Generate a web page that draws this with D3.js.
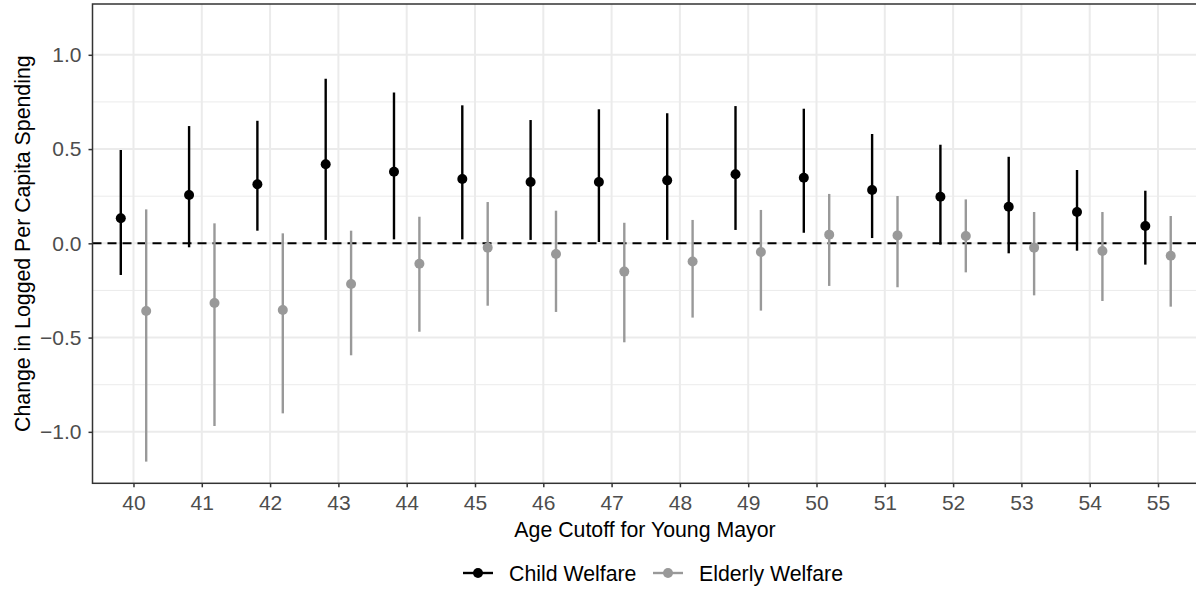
<!DOCTYPE html>
<html>
<head>
<meta charset="utf-8">
<script src="https://cdn.jsdelivr.net/npm/d3@7"></script>
<style>
  body { margin: 0; background: #fff; }
  text { font-family: "Liberation Sans", Arial, sans-serif; }
</style>
</head>
<body>
<div id="chart"></div>
<script>
// age cutoffs on the x axis
const cutoffs = ["40","41","42","43","44","45","46","47","48","49","50","51","52","53","54","55"];

// child welfare estimates and interval ends
const childEst = [0.133, 0.256, 0.313, 0.419, 0.380, 0.341, 0.325, 0.325, 0.334, 0.366, 0.348, 0.283, 0.247, 0.194, 0.166, 0.092];
const childLo  = [-0.168, -0.021, 0.067, 0.018, 0.021, 0.021, 0.018, 0.007, 0.018, 0.071, 0.056, 0.028, -0.007, -0.053, -0.039, -0.113];
const childHi  = [0.495, 0.622, 0.650, 0.873, 0.800, 0.732, 0.654, 0.711, 0.690, 0.728, 0.714, 0.580, 0.523, 0.459, 0.389, 0.279];

// elderly welfare estimates and interval ends
const elderEst = [-0.359, -0.317, -0.354, -0.216, -0.108, -0.023, -0.057, -0.150, -0.096, -0.046, 0.046, 0.042, 0.039, -0.023, -0.041, -0.066];
const elderLo  = [-1.158, -0.969, -0.902, -0.594, -0.469, -0.331, -0.364, -0.525, -0.394, -0.357, -0.226, -0.233, -0.154, -0.276, -0.306, -0.336];
const elderHi  = [0.180, 0.106, 0.053, 0.067, 0.141, 0.219, 0.173, 0.109, 0.124, 0.177, 0.262, 0.251, 0.233, 0.166, 0.166, 0.145];

const yTicks = [-1.0, -0.5, 0.0, 0.5, 1.0];
const yMinor = [-0.75, -0.25, 0.25, 0.75];

const width = 1196;
const height = 590;

const panelLeft = 92.5, panelRight = 1199, panelTop = 4, panelBottom = 483.3;

const svg = d3.select("#chart").append("svg")
  .attr("width", width)
  .attr("height", height)
  .attr("viewBox", [0, 0, width, height]);

const x = d3.scalePoint()
  .domain(cutoffs)
  .range([panelLeft, panelRight])
  .padding(0.6);

const y = d3.scaleLinear()
  .domain([-1.273, 1.2695])
  .range([panelBottom, panelTop]);

const dodge = 12.7;

const series = [
  { name: "Child Welfare", color: "#000000", off: -dodge, est: childEst, lo: childLo, hi: childHi },
  { name: "Elderly Welfare", color: "#999999", off: dodge, est: elderEst, lo: elderLo, hi: elderHi }
];

// grid
const grid = svg.append("g");
grid.selectAll(".minor")
  .data(yMinor)
  .join("line")
  .attr("x1", panelLeft).attr("x2", panelRight)
  .attr("y1", d => y(d)).attr("y2", d => y(d))
  .attr("stroke", "#ebebeb")
  .attr("stroke-width", 1);
grid.selectAll(".majorY")
  .data(yTicks)
  .join("line")
  .attr("x1", panelLeft).attr("x2", panelRight)
  .attr("y1", d => y(d)).attr("y2", d => y(d))
  .attr("stroke", "#ebebeb")
  .attr("stroke-width", 2);
grid.selectAll(".majorX")
  .data(cutoffs)
  .join("line")
  .attr("x1", d => x(d)).attr("x2", d => x(d))
  .attr("y1", panelTop).attr("y2", panelBottom)
  .attr("stroke", "#ebebeb")
  .attr("stroke-width", 2);

// zero reference line
svg.append("line")
  .attr("x1", panelLeft).attr("x2", panelRight)
  .attr("y1", y(0)).attr("y2", y(0))
  .attr("stroke", "#000")
  .attr("stroke-width", 2)
  .attr("stroke-dasharray", "9,6");

// ranges and points
series.forEach(s => {
  const g = svg.append("g");
  g.selectAll("line")
    .data(cutoffs)
    .join("line")
    .attr("x1", d => x(d) + s.off).attr("x2", d => x(d) + s.off)
    .attr("y1", (d, i) => y(s.lo[i]))
    .attr("y2", (d, i) => y(s.hi[i]))
    .attr("stroke", s.color)
    .attr("stroke-width", 2.4);
  g.selectAll("circle")
    .data(cutoffs)
    .join("circle")
    .attr("cx", d => x(d) + s.off)
    .attr("cy", (d, i) => y(s.est[i]))
    .attr("r", 5)
    .attr("fill", s.color);
});

// panel border
svg.append("rect")
  .attr("x", panelLeft).attr("y", panelTop)
  .attr("width", panelRight - panelLeft).attr("height", panelBottom - panelTop)
  .attr("fill", "none")
  .attr("stroke", "#333333")
  .attr("stroke-width", 1.5);

// axes
const xAxis = svg.append("g")
  .attr("transform", `translate(0,${panelBottom})`)
  .call(d3.axisBottom(x).tickSize(4).tickPadding(8));
const yAxis = svg.append("g")
  .attr("transform", `translate(${panelLeft},0)`)
  .call(d3.axisLeft(y).tickValues(yTicks).tickFormat(d3.format(".1f")).tickSize(4).tickPadding(7));

[xAxis, yAxis].forEach(a => {
  a.select(".domain").remove();
  a.selectAll(".tick line").attr("stroke", "#333333").attr("stroke-width", 1.5);
  a.selectAll(".tick text")
    .attr("fill", "#4d4d4d")
    .style("font-family", '"Liberation Sans", Arial, sans-serif')
    .style("font-size", "21px");
});
yAxis.selectAll(".tick text").text(d => d < 0 ? "\u2212" + d3.format(".1f")(-d) : d3.format(".1f")(d));

// axis titles
svg.append("text")
  .attr("x", 645)
  .attr("y", 536.5)
  .attr("text-anchor", "middle")
  .attr("fill", "#000")
  .style("font-size", "21.3px")
  .text("Age Cutoff for Young Mayor");

svg.append("text")
  .attr("transform", `translate(30,${(panelTop + panelBottom) / 2}) rotate(-90)`)
  .attr("text-anchor", "middle")
  .attr("fill", "#000")
  .style("font-size", "21.3px")
  .text("Change in Logged Per Capita Spending");

// legend
const legendX = [463, 653];
const legend = svg.append("g");
series.forEach((s, i) => {
  const lg = legend.append("g").attr("transform", `translate(${legendX[i]},573)`);
  lg.append("line")
    .attr("x1", 0).attr("x2", 30)
    .attr("stroke", s.color)
    .attr("stroke-width", 2.4);
  lg.append("circle")
    .attr("cx", 15).attr("r", 5)
    .attr("fill", s.color);
  lg.append("text")
    .attr("x", 46)
    .attr("dy", "0.36em")
    .attr("fill", "#000")
    .style("font-size", "21.3px")
    .text(s.name);
});
</script>
</body>
</html>
